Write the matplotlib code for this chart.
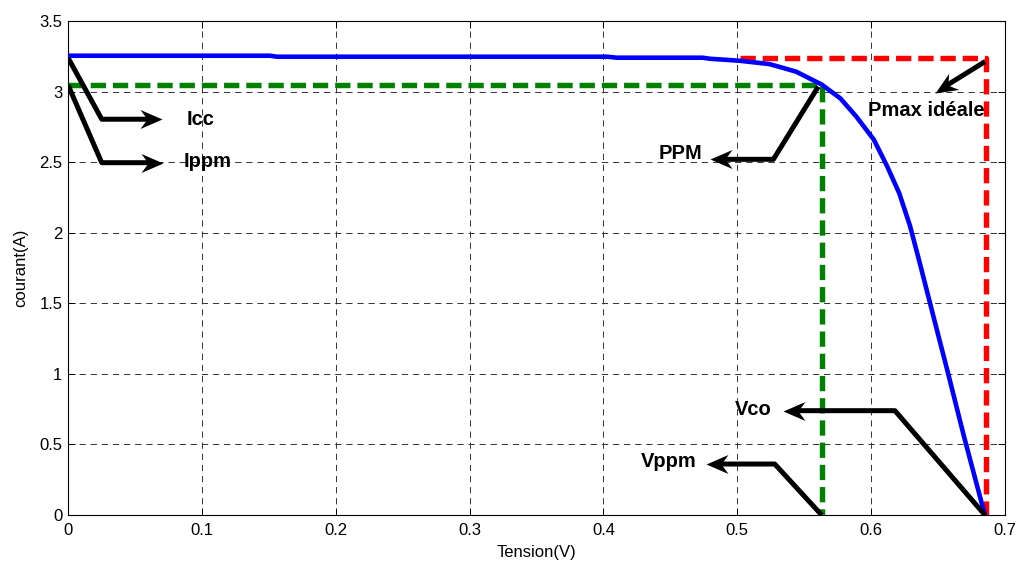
import numpy as np
import matplotlib
matplotlib.use("Agg")
import matplotlib.pyplot as plt
from matplotlib.markers import MarkerStyle
from matplotlib.path import Path
from matplotlib.transforms import Affine2D

plt.rcParams['font.family'] = ['Liberation Sans', 'DejaVu Sans']
plt.rcParams['lines.scale_dashes'] = False

# I-V characteristic of the PV cell
tension = [0.0, 0.151, 0.156, 0.403, 0.410, 0.474, 0.480, 0.490, 0.502,
           0.524, 0.544, 0.563, 0.577, 0.589, 0.602, 0.612, 0.621, 0.629,
           0.6365, 0.647, 0.6576, 0.669, 0.684, 0.685]
courant = [3.254, 3.254, 3.247, 3.247, 3.240, 3.240, 3.232, 3.226, 3.218,
           3.195, 3.141, 3.050, 2.952, 2.822, 2.660, 2.470, 2.280, 2.050,
           1.780, 1.390, 1.000, 0.570, 0.035, 0.0]

# maximum power point
v_ppm = 0.563
i_ppm = 3.05

# ideal maximum power rectangle
v_ideal_start = 0.502
v_co = 0.686
i_ideal = 3.236

x_ticks = [0, 0.1, 0.2, 0.3, 0.4, 0.5, 0.6, 0.7]
x_tick_labels = ['0', '0.1', '0.2', '0.3', '0.4', '0.5', '0.6', '0.7']
y_ticks = [0, 0.5, 1, 1.5, 2, 2.5, 3, 3.5]
y_tick_labels = ['0', '0.5', '1', '1.5', '2', '2.5', '3', '3.5']

# annotation labels, their anchor and the arrow path (start -> tip)
labels = ['Icc', 'Ippm', 'PPM', 'Pmax idéale', 'Vco', 'Vppm']
label_x = [0.0889, 0.0867, 0.474, 0.5976, 0.498, 0.470]
label_y = [2.762, 2.463, 2.52, 2.827, 0.709, 0.342]
label_ha = ['left', 'left', 'right', 'left', 'left', 'right']
arrow_x = [[0.0, 0.0252, 0.070],
           [0.0, 0.0252, 0.0712],
           [0.5605, 0.527, 0.4796],
           [0.685, 0.6477],
           [0.685, 0.6178, 0.5344],
           [0.563, 0.528, 0.477]]
arrow_y = [[3.24, 2.804, 2.804],
           [3.047, 2.496, 2.496],
           [3.035, 2.52, 2.52],
           [3.212, 2.992],
           [0.0, 0.739, 0.739],
           [0.0, 0.361, 0.361]]

fig = plt.figure(figsize=(10.18, 5.63), dpi=100)
ax = fig.add_axes([0.0668, 0.0853, 0.9204, 0.8774])
ax.set_xlim(0, 0.7)
ax.set_ylim(0, 3.5)

ax.plot(tension, courant, color='#0000ff', lw=3.3, zorder=4,
        solid_joinstyle='round')
ax.plot([0, v_ppm, v_ppm], [i_ppm, i_ppm, 0], color='#008000', lw=3.9,
        dashes=(11, 5), zorder=3)
ax.plot([v_ideal_start, v_co, v_co], [i_ideal, i_ideal, 0], color='#ff0000',
        lw=3.9, dashes=(11, 5), zorder=3)

# arrowhead with a slightly swept-back base, tip at the origin
head_len = 22
head_path = Path([(0, 0), (-head_len, 9.5), (-15, 0), (-head_len, -9.5), (0, 0)],
                 [Path.MOVETO, Path.LINETO, Path.LINETO, Path.LINETO, Path.CLOSEPOLY])
px_to_pt = 72.0 / fig.dpi


def draw_arrow(xs, ys):
    pts = ax.transData.transform(np.column_stack([xs, ys]))
    tip = pts[-1]
    d = tip - pts[-2]
    ang = np.degrees(np.arctan2(d[1], d[0]))
    unit = d / np.hypot(d[0], d[1])
    shaft = pts.copy()
    shaft[-1] = tip - unit * 13
    shaft_data = ax.transData.inverted().transform(shaft)
    ax.plot(shaft_data[:, 0], shaft_data[:, 1], color='black', lw=3.6,
            solid_joinstyle='round', solid_capstyle='butt', zorder=5)
    marker = MarkerStyle(head_path, transform=Affine2D().rotate_deg(ang))
    ax.plot([xs[-1]], [ys[-1]], linestyle='none', marker=marker,
            markersize=2 * head_len * px_to_pt, markerfacecolor='black',
            markeredgewidth=0, zorder=6)


for xs, ys in zip(arrow_x, arrow_y):
    draw_arrow(xs, ys)

for txt, tx, ty, ha in zip(labels, label_x, label_y, label_ha):
    ax.text(tx, ty, txt, ha=ha, va='baseline', fontsize=14.5,
            fontweight='bold', color='black', zorder=7)

ax.set_xticks(x_ticks)
ax.set_xticklabels(x_tick_labels)
ax.set_yticks(y_ticks)
ax.set_yticklabels(y_tick_labels)
ax.tick_params(direction='in', length=5, width=0.7, top=True, right=True,
               labelsize=12, colors='black')
ax.tick_params(axis='x', pad=6)
ax.tick_params(axis='y', pad=4)
ax.grid(True, color='0.2', lw=0.7, linestyle=(0, (4.5, 3.5)))
ax.set_axisbelow(True)
for s in ax.spines.values():
    s.set_linewidth(0.8)
    s.set_color('black')

ax.set_xlabel('Tension(V)', fontsize=12, labelpad=5)
ax.set_ylabel('courant(A)', fontsize=12, labelpad=8)

fig.savefig('out.png', dpi=100, facecolor='white')
